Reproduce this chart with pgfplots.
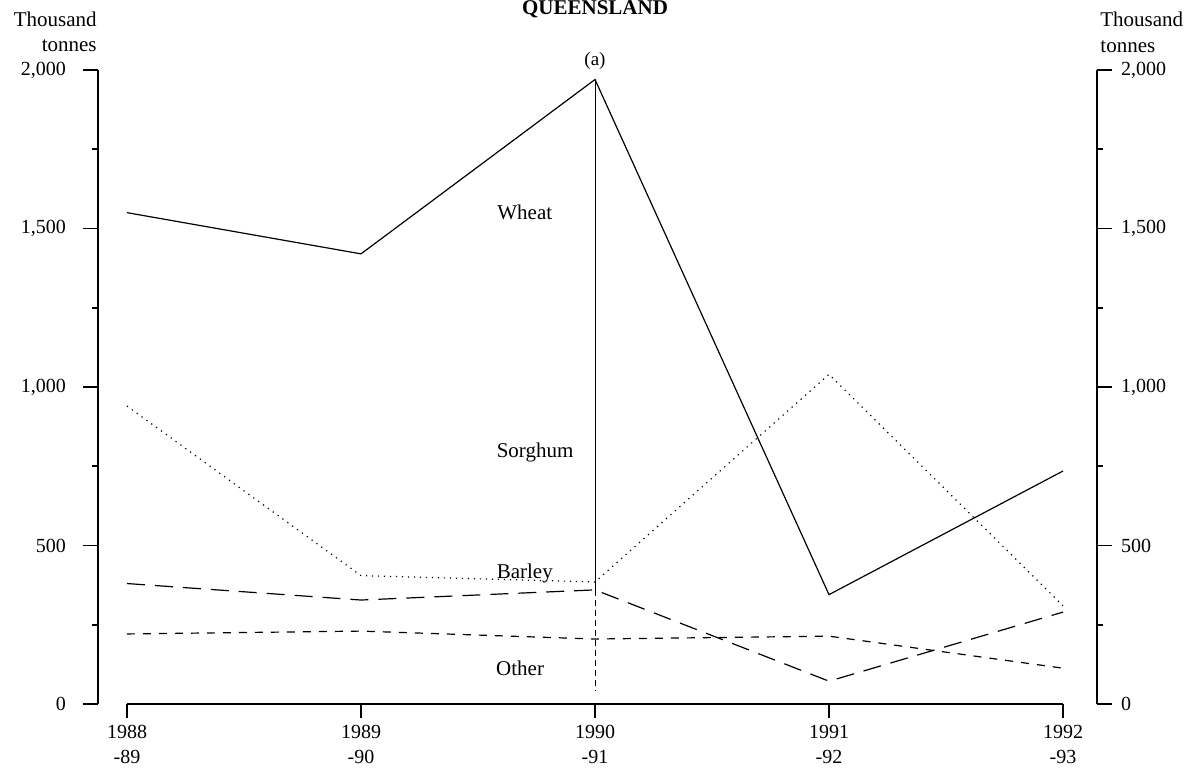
\documentclass[border=0pt]{standalone}
\usepackage{fontspec}
\setmainfont{Liberation Serif}
\usepackage{pgfplots}
\pgfplotsset{compat=1.18}
\begin{document}
\begin{tikzpicture}
\useasboundingbox (-63.5pt,-34pt) rectangle (530pt,352pt);
% left y axis
\begin{axis}[
  at={(-14.5pt,0pt)}, anchor=south west,
  scale only axis, width=499.5pt, height=317pt,
  xmin=0, xmax=1, ymin=0, ymax=2000,
  hide x axis,
  axis y line*=left,
  axis line style={line width=0.9pt, -},
  ytick={0,500,1000,1500,2000},
  yticklabels={0,500,{1,000},{1,500},{2,000}},
  minor ytick={250,750,1250,1750},
  tick align=outside,
  major tick length=7.5pt, minor tick length=3pt,
  every tick/.style={line width=0.8pt, black},
  yticklabel style={font=\fontsize{10}{12}\selectfont, xshift=-5pt},
]
\end{axis}
% right y axis
\begin{axis}[
  at={(-14.5pt,0pt)}, anchor=south west,
  scale only axis, width=499.5pt, height=317pt,
  xmin=0, xmax=1, ymin=0, ymax=2000,
  hide x axis,
  axis y line*=right,
  axis line style={line width=0.9pt, -},
  ytick={0,500,1000,1500,2000},
  yticklabels={0,500,{1,000},{1,500},{2,000}},
  minor ytick={250,750,1250,1750},
  tick align=outside,
  major tick length=7.5pt, minor tick length=3pt,
  every tick/.style={line width=0.8pt, black},
  yticklabel style={font=\fontsize{10}{12}\selectfont, xshift=1pt},
]
\end{axis}
% data axis
\begin{axis}[
  at={(0pt,0pt)}, anchor=south west,
  scale only axis, width=468pt, height=317pt,
  xmin=0, xmax=4, ymin=0, ymax=2000,
  clip=false,
  hide y axis,
  axis x line*=bottom,
  axis line style={line width=0.9pt, -},
  xtick={0,1,2,3,4},
  xticklabels={{1988\\-89},{1989\\-90},{1990\\-91},{1991\\-92},{1992\\-93}},
  xticklabel style={align=center, font=\fontsize{10}{12.5}\selectfont},
  tick align=outside,
  major tick length=7pt,
  every tick/.style={line width=0.8pt, black},
]
\addplot[black, line width=0.6pt] coordinates {(0,1550) (1,1420) (2,1970) (3,345) (4,735)};
\addplot[black, line width=0.6pt, dash pattern=on 0.6pt off 2.4pt] coordinates {(0,940) (1,405) (2,385) (3,1040) (4,310)};
\addplot[black, line width=0.6pt, dash pattern=on 9pt off 5pt] coordinates {(0,380) (1,328) (2,360) (3,72) (4,290)};
\addplot[black, line width=0.6pt, dash pattern=on 4pt off 4pt] coordinates {(0,221) (1,230) (2,205) (3,214) (4,113)};
\addplot[black, line width=0.5pt] coordinates {(2,1970) (2,360)};
\addplot[black, line width=0.5pt, dash pattern=on 3pt off 2pt] coordinates {(2,360) (2,40)};
\node[font=\fontsize{9.5}{11}\selectfont] at (axis cs:2,2030) {(a)};
\node[font=\fontsize{10.5}{12}\selectfont] at (axis cs:1.70,1552) {Wheat};
\node[font=\fontsize{10.5}{12}\selectfont] at (axis cs:1.744,795) {Sorghum};
\node[font=\fontsize{10.5}{12}\selectfont] at (axis cs:1.70,413) {Barley};
\node[font=\fontsize{10.5}{12}\selectfont] at (axis cs:1.68,114) {Other};
\end{axis}
\node[font=\bfseries\fontsize{10.5}{12}\selectfont, anchor=base] at (234pt,344.5pt) {QUEENSLAND};
\node[font=\fontsize{10.5}{12}\selectfont, anchor=base east, inner sep=0pt] at (-15pt,338.5pt) {Thousand};
\node[font=\fontsize{10.5}{12}\selectfont, anchor=base east, inner sep=0pt] at (-15pt,326pt) {tonnes};
\node[font=\fontsize{10.5}{12}\selectfont, anchor=base west, inner sep=0pt] at (486.5pt,338.5pt) {Thousand};
\node[font=\fontsize{10.5}{12}\selectfont, anchor=base west, inner sep=0pt] at (486.5pt,325.5pt) {tonnes};
\end{tikzpicture}
\end{document}
